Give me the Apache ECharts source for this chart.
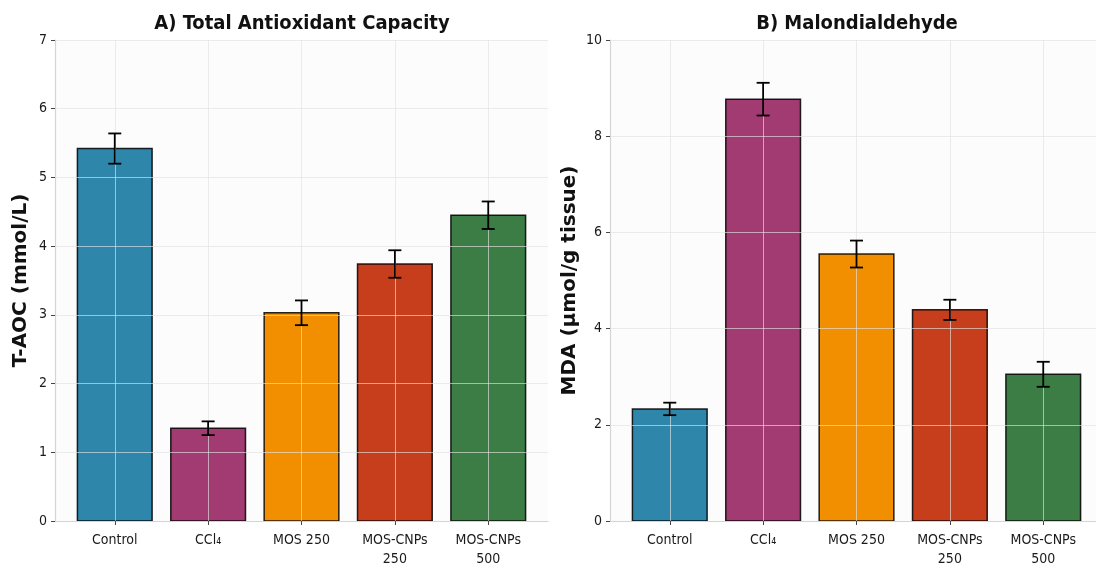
<!DOCTYPE html>
<html>
<head>
<meta charset="utf-8">
<script src="https://cdn.jsdelivr.net/npm/echarts@6/dist/echarts.min.js"></script>
<style>
  html, body { margin: 0; padding: 0; background: #ffffff; }
  #chart { width: 1096px; height: 569px; }
</style>
</head>
<body>
<div id="chart"></div>
<script>
// Treatment groups (x axis)
const groups = ['Control', 'CCl₄', 'MOS 250', 'MOS-CNPs\n250', 'MOS-CNPs\n500'];
const barColors = ['#2E86AB', '#A23B72', '#F18F01', '#C73E1D', '#3B7D44'];

// Panel A: total antioxidant capacity (mmol/L), mean and SD
const taocMean = [5.42, 1.35, 3.03, 3.74, 4.45];
const taocErr  = [0.22, 0.10, 0.18, 0.20, 0.20];

// Panel B: malondialdehyde (μmol/g tissue), mean and SD
const mdaMean = [2.33, 8.77, 5.55, 4.39, 3.05];
const mdaErr  = [0.13, 0.34, 0.28, 0.21, 0.26];

// Tick settings for the value axes
const taocTicks = { min: 0, max: 7, interval: 1 };
const mdaTicks  = { min: 0, max: 10, interval: 2 };

const positions = groups.map((_, i) => i);
const condensed = '"DejaVu Sans Condensed", "DejaVu Sans", sans-serif';
const gridLine = { show: true, lineStyle: { color: 'rgba(226,226,226,0.65)', width: 1 } };

// The right panel runs to the page edge, so its x range stops a little short of 4.64
function xAxisFor(gridIndex, xMax) {
  return {
    type: 'value', gridIndex, min: -0.64, max: xMax, z: 5,
    axisLine: { show: true, onZero: false, lineStyle: { color: '#d4d4d4', width: 1.2 } },
    axisTick: { show: true, customValues: positions, length: 4, lineStyle: { color: '#444' } },
    axisLabel: {
      customValues: positions, margin: 10, color: '#1a1a1a', fontSize: 14,
      fontFamily: condensed, lineHeight: 19,
      formatter: v => groups[Math.round(v)]
    },
    splitLine: gridLine
  };
}

function yAxisFor(gridIndex, ticks, name, gap) {
  return {
    type: 'value', gridIndex, min: ticks.min, max: ticks.max, interval: ticks.interval, z: 5,
    name, nameLocation: 'middle', nameGap: gap, nameRotate: 90,
    nameTextStyle: { fontFamily: '"DejaVu Sans", sans-serif', fontWeight: 'bold', fontSize: 20, color: '#111' },
    axisLine: { show: true, onZero: false, lineStyle: { color: '#d4d4d4', width: 1.2 } },
    axisTick: { show: true, length: 4, lineStyle: { color: '#444' } },
    axisLabel: { margin: 8, color: '#1a1a1a', fontSize: 14, fontFamily: condensed },
    splitLine: gridLine
  };
}

function barSeries(idx, means) {
  return {
    type: 'custom', xAxisIndex: idx, yAxisIndex: idx, z: 2,
    data: means.map((v, i) => [i, v]),
    renderItem: (params, api) => {
      const x = api.value(0), v = api.value(1);
      const top = api.coord([x, v]);
      const base = api.coord([x, 0]);
      const w = api.size([0.8, 0])[0];
      return {
        type: 'rect',
        shape: { x: top[0] - w / 2, y: top[1], width: w, height: base[1] - top[1] },
        style: { fill: barColors[params.dataIndex], stroke: 'rgba(0,0,0,0.85)', lineWidth: 1.5 }
      };
    }
  };
}

function errorSeries(idx, means, errs) {
  return {
    type: 'custom', xAxisIndex: idx, yAxisIndex: idx, z: 10,
    data: means.map((v, i) => [i, v, errs[i]]),
    renderItem: (params, api) => {
      const x = api.value(0), v = api.value(1), e = api.value(2);
      const hi = api.coord([x, v + e]);
      const lo = api.coord([x, v - e]);
      const cap = 6.5;
      const st = { stroke: '#000', lineWidth: 1.8 };
      return {
        type: 'group',
        children: [
          { type: 'line', shape: { x1: hi[0], y1: hi[1], x2: lo[0], y2: lo[1] }, style: st },
          { type: 'line', shape: { x1: hi[0] - cap, y1: hi[1], x2: hi[0] + cap, y2: hi[1] }, style: st },
          { type: 'line', shape: { x1: lo[0] - cap, y1: lo[1], x2: lo[0] + cap, y2: lo[1] }, style: st }
        ]
      };
    }
  };
}

const titleStyle = { fontFamily: condensed, fontWeight: 'bold', fontSize: 20, color: '#111' };

const chart = echarts.init(document.getElementById('chart'), null, { renderer: 'canvas' });
chart.setOption({
  backgroundColor: '#ffffff',
  animation: false,
  title: [
    { text: 'A) Total Antioxidant Capacity', left: 297, top: 9, textAlign: 'center', textStyle: titleStyle },
    { text: 'B) Malondialdehyde', left: 852, top: 9, textAlign: 'center', textStyle: titleStyle }
  ],
  grid: [
    { left: 55, top: 40, width: 493, height: 481, show: true, backgroundColor: '#fcfcfc', borderWidth: 0 },
    { left: 610, top: 40, width: 486, height: 481, show: true, backgroundColor: '#fcfcfc', borderWidth: 0 }
  ],
  xAxis: [xAxisFor(0, 4.64), xAxisFor(1, 4.565)],
  yAxis: [
    yAxisFor(0, taocTicks, 'T-AOC (mmol/L)', 24),
    yAxisFor(1, mdaTicks, 'MDA (μmol/g tissue)', 30)
  ],
  series: [
    barSeries(0, taocMean), errorSeries(0, taocMean, taocErr),
    barSeries(1, mdaMean), errorSeries(1, mdaMean, mdaErr)
  ]
});
</script>
</body>
</html>
